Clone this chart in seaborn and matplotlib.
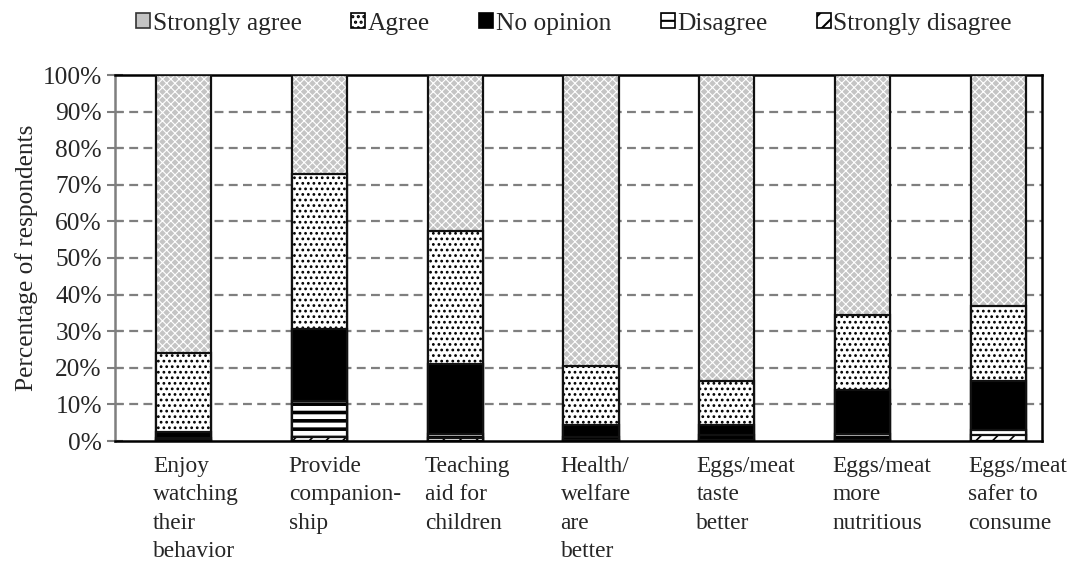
import numpy as np
import pandas as pd
import matplotlib
matplotlib.use("Agg")
import matplotlib.pyplot as plt
import matplotlib.transforms as mtransforms
from matplotlib.patches import Patch
from matplotlib.ticker import FuncFormatter
import seaborn as sns

categories = ["Enjoy\nwatching\ntheir\nbehavior", "Provide\ncompanion-\nship",
              "Teaching\naid for\nchildren", "Health/\nwelfare\nare\nbetter",
              "Eggs/meat\ntaste\nbetter", "Eggs/meat\nmore\nnutritious",
              "Eggs/meat\nsafer to\nconsume"]
responses = ["Strongly agree", "Agree", "No opinion", "Disagree", "Strongly disagree"]
strongly_agree = [76.0, 27.0, 42.5, 79.5, 83.6, 65.5, 63.0]
agree = [21.5, 42.5, 36.5, 16.0, 12.0, 20.5, 20.5]
no_opinion = [1.8, 19.5, 19.0, 3.3, 2.8, 12.0, 13.5]
disagree = [0.4, 9.8, 1.3, 0.9, 1.2, 1.6, 1.4]
strongly_disagree = [0.3, 1.2, 0.7, 0.3, 0.4, 0.4, 1.6]
yticks = list(range(0, 101, 10))

sns.set_theme(style="white")
plt.rcParams['font.family'] = ['Liberation Serif', 'DejaVu Serif']

FS = 18.3
XFS = 16.8
series = [strongly_agree, agree, no_opinion, disagree, strongly_disagree]
# styles: face, hatch, hatch colour, hatch linewidth
styles = {
    "Strongly agree": ("#c4c4c4", "xxxx", "white", 0.8),
    "Agree": ("white", "...", "black", 1.2),
    "No opinion": ("black", None, "black", 1.0),
    "Disagree": ("white", "--", "black", 2.6),
    "Strongly disagree": ("white", "//", "black", 1.2),
}

df = pd.DataFrame({"category": categories})
for name, vals in zip(responses, series):
    df[name] = vals
# cumulative from bottom (strongly disagree) upward
cum = np.zeros(len(categories))
for name in reversed(responses):
    cum = cum + df[name].to_numpy()
    df["cum_" + name] = cum.copy()

fig = plt.figure(figsize=(10.68, 5.67), dpi=100)
ax = fig.add_axes([115/1068, 1-441/567, (1042-115)/1068, (441-75)/567])

W = 0.405
for name in responses:
    face, hatch, hcol, hlw = styles[name]
    n_before = len(ax.patches)
    with plt.rc_context({'hatch.linewidth': hlw}):
        sns.barplot(data=df, x="category", y="cum_" + name, color=face,
                    saturation=1, width=W, linewidth=0, edgecolor=hcol,
                    hatch=hatch, errorbar=None, ax=ax, zorder=3)
    for p in ax.patches[n_before:]:
        p.set_edgecolor(hcol)
        p.set_facecolor(face)
        if hatch:
            p.set_hatch(hatch)
        if hasattr(p, "set_hatch_linewidth"):
            p.set_hatch_linewidth(hlw)
        p.set_linewidth(0)
    n_before = len(ax.patches)
    sns.barplot(data=df, x="category", y="cum_" + name, color="black",
                fill=False, width=W, linewidth=1.6, errorbar=None, ax=ax, zorder=3)
    for p in ax.patches[n_before:]:
        p.set_facecolor("none")
        p.set_edgecolor("#111111")
        p.set_hatch(None)

ax.set_ylim(0, 100)
ax.set_xlim(-0.504, 6.32)
ax.set_yticks(yticks)
ax.yaxis.set_major_formatter(FuncFormatter(lambda v, p: f"{int(v)}%"))
ax.set_ylabel("Percentage of respondents", fontsize=FS, labelpad=3)
ax.set_xlabel("")
ax.grid(False)
for yv in yticks[1:-1]:
    ax.axhline(yv, color="#7f7f7f", lw=1.6, dashes=(4, 2.4), zorder=1)

for s in ["top", "bottom", "right"]:
    ax.spines[s].set_color("black")
    ax.spines[s].set_linewidth(1.8)
ax.spines["left"].set_color("#7f7f7f")
ax.spines["left"].set_linewidth(1.8)
ax.spines["bottom"].set_zorder(5)

ax.tick_params(axis="y", direction="inout", length=11, width=1.5, color="#7f7f7f",
               labelsize=FS, pad=4, left=True)
ax.tick_params(axis="x", length=0, labelsize=XFS, pad=11, bottom=False)

offset = mtransforms.ScaledTranslation(-0.305, 0, fig.dpi_scale_trans)
for lab in ax.get_xticklabels():
    lab.set_horizontalalignment("left")
    lab.set_verticalalignment("top")
    lab.set_multialignment("left")
    lab.set_linespacing(1.45)
    lab.set_transform(lab.get_transform() + offset)

handles = []
for name in responses:
    face, hatch, hcol, hlw = styles[name]
    if name == "Strongly agree":
        h = Patch(facecolor=face, edgecolor="#333333", linewidth=1.2)
    else:
        h = Patch(facecolor=face, edgecolor="black", hatch=hatch, linewidth=1.2)
    handles.append(h)
with plt.rc_context({'hatch.linewidth': 1.5}):
    leg = fig.legend(handles, responses, loc="center", bbox_to_anchor=(0.5375, 0.958),
                     ncol=5, frameon=False, fontsize=FS, handlelength=0.55,
                     handleheight=0.55, handletextpad=0.1, columnspacing=1.95,
                     borderaxespad=0)

fig.savefig("out.png", dpi=100)
